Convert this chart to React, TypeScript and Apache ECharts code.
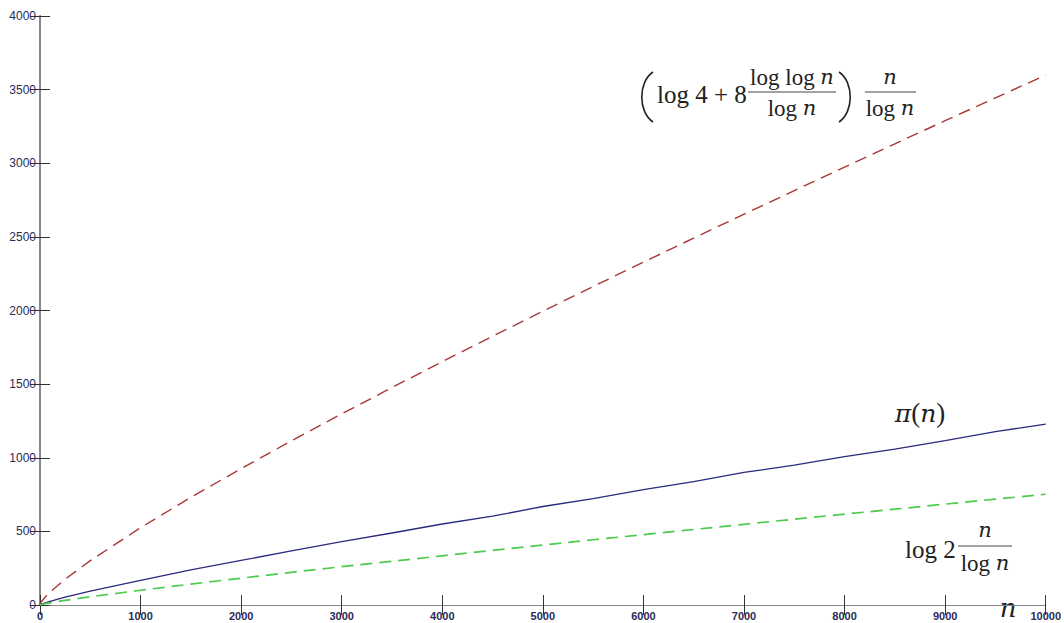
import React, { useEffect, useRef } from "react";
import * as echarts from "echarts";

const nValues = [0, 10, 50, 100, 250, 500, 1000, 1500, 2000, 2500, 3000, 3500, 4000, 4500, 5000, 5500, 6000, 6500, 7000, 7500, 8000, 8500, 9000, 9500, 10000];
const piValues = [0, 4, 15, 25, 53, 95, 168, 239, 303, 367, 430, 489, 550, 603, 669, 723, 783, 838, 900, 950, 1007, 1059, 1117, 1177, 1229];
const upperValues = [0, 19, 53, 88, 175, 301, 525, 731, 926, 1115, 1298, 1477, 1653, 1825, 1995, 2163, 2328, 2492, 2654, 2814, 2974, 3132, 3289, 3444, 3599];
const lowerValues = [0, 3, 9, 15, 31, 56, 100, 142, 182, 222, 260, 297, 334, 371, 407, 443, 478, 513, 548, 583, 617, 651, 685, 719, 752];

const xTicks = { min: 0, max: 10000, interval: 1000 };
const yTicks = { min: 0, max: 4000, interval: 500 };

const SERIF = "Liberation Serif";
const ITALIC = "DejaVu Serif";
const TXT = "#222";

function txt(x: number, y: number, text: string, size: number, align = "center", rich?: any, italic = false) {
  return {
    type: "text",
    x,
    y,
    silent: true,
    style: {
      text,
      fill: TXT,
      fontSize: size,
      fontFamily: italic ? ITALIC : SERIF,
      fontStyle: italic ? "italic" : "normal",
      align,
      verticalAlign: "middle",
      textAlign: align,
      textVerticalAlign: "middle",
      rich: rich,
    },
  };
}

function hline(x1: number, x2: number, y: number) {
  return {
    type: "line",
    silent: true,
    shape: { x1, y1: y, x2, y2: y },
    style: { stroke: "#444", lineWidth: 1 },
  };
}

function paren(xEnd: number, xBulge: number, y1: number, y2: number) {
  const h = y2 - y1;
  return {
    type: "bezierCurve",
    silent: true,
    shape: {
      x1: xEnd, y1,
      x2: xEnd, y2,
      cpx1: xBulge, cpy1: y1 + h * 0.2,
      cpx2: xBulge, cpy2: y1 + h * 0.8,
    },
    style: { stroke: "#222", lineWidth: 1.6, fill: null },
  };
}

export default function App() {
  const ref = useRef<HTMLDivElement>(null);
  useEffect(() => {
    if (!ref.current) return;
    const chart = echarts.init(ref.current, undefined, { renderer: "svg" });
    const pairs = (vals: number[]) => nValues.map((n, i) => [n, vals[i]]);
    const italicN = (size: number) => ({ i: { fontStyle: "italic", fontSize: size - 2, fontFamily: ITALIC, fill: TXT } });
    const fmt = (v: number) => String(v);
    const labelBase = { color: "#2b2b55", fontFamily: "Liberation Sans", formatter: fmt };
    chart.setOption({
      animation: false,
      backgroundColor: "#ffffff",
      grid: { left: 40, top: 16, right: 18, bottom: 18, containLabel: false },
      xAxis: [
        {
          type: "value",
          ...xTicks,
          axisLine: { show: true, lineStyle: { color: "#333", width: 1 } },
          axisTick: { show: true, inside: true, length: 10, lineStyle: { color: "#333" } },
          axisLabel: { ...labelBase, fontSize: 11, fontWeight: "bold", margin: 5 },
          splitLine: { show: false },
        },
        {
          type: "value",
          position: "top",
          ...xTicks,
          axisLine: { show: true, lineStyle: { color: "#888", width: 1 } },
          axisTick: { show: true, inside: true, length: 10, lineStyle: { color: "#333" } },
          axisLabel: { show: false },
          splitLine: { show: false },
        },
      ],
      yAxis: [
        {
          type: "value",
          ...yTicks,
          axisLine: { show: true, lineStyle: { color: "#333", width: 1 } },
          axisTick: { show: true, inside: true, length: 10, lineStyle: { color: "#333" } },
          axisLabel: { ...labelBase, fontSize: 12, margin: 4 },
          splitLine: { show: false },
        },
        {
          type: "value",
          position: "right",
          ...yTicks,
          axisLine: { show: true, lineStyle: { color: "#888", width: 2 } },
          axisTick: { show: true, inside: true, length: 10, lineStyle: { color: "#333" } },
          axisLabel: { show: false },
          splitLine: { show: false },
        },
      ],
      series: [
        {
          name: "upper",
          type: "line",
          data: pairs(upperValues),
          showSymbol: false,
          lineStyle: { color: "#a83838", width: 1.4, type: [12, 7] },
        },
        {
          name: "pi",
          type: "line",
          data: pairs(piValues),
          showSymbol: false,
          lineStyle: { color: "#2a2a80", width: 1.3, type: "solid" },
        },
        {
          name: "lower",
          type: "line",
          data: pairs(lowerValues),
          showSymbol: false,
          lineStyle: { color: "#4ccc4c", width: 1.7, type: [12, 7] },
        },
      ],
      graphic: [
        paren(653, 638, 72, 122),
        txt(657, 94, "log 4 + 8", 25, "left"),
        txt(792, 77, "log log {i|n}", 23, "center", italicN(23)),
        hline(748, 836, 92),
        txt(792, 108, "log {i|n}", 23, "center", italicN(23)),
        paren(839, 854, 72, 122),
        txt(890, 77, "{i|n}", 23, "center", italicN(23)),
        hline(865, 916, 92),
        txt(890, 108, "log {i|n}", 23, "center", italicN(23)),
        txt(920, 413, "{i|π}({i|n})", 27, "center", italicN(27)),
        txt(905, 549, "log 2", 25, "left"),
        txt(985, 530, "{i|n}", 23, "center", italicN(23)),
        hline(958, 1012, 546),
        txt(985, 563, "log {i|n}", 23, "center", italicN(23)),
        txt(1008, 608, "n", 26, "center", undefined, true),
      ],
    });
    return () => chart.dispose();
  }, []);
  return <div ref={ref} style={{ position: "fixed", left: 0, top: 0, width: 1064, height: 623 }} />;
}
